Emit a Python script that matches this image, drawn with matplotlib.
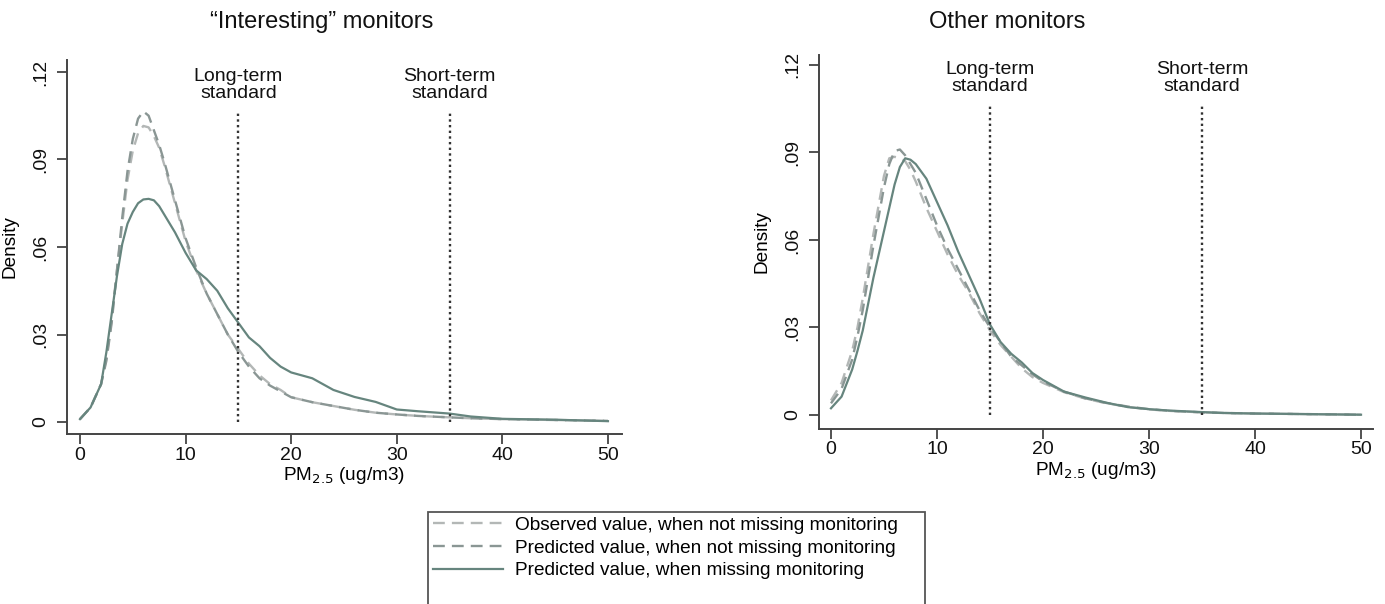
import matplotlib.pyplot as plt
from matplotlib.patches import Rectangle

pm = [0, 1, 2, 2.5, 3, 3.5, 4, 4.5, 5, 5.5, 6, 6.5, 7, 7.5, 8, 9, 10, 11, 12, 13, 14,
      15, 16, 17, 18, 19, 20, 22, 24, 26, 28, 30, 32, 35, 37, 40, 45, 50]

# "Interesting" monitors
int_observed = [0.001, 0.005, 0.013, 0.022, 0.035, 0.052, 0.068, 0.083, 0.093, 0.099,
                0.1015, 0.101, 0.098, 0.094, 0.088, 0.075, 0.062, 0.052, 0.044, 0.037,
                0.030, 0.025, 0.020, 0.016, 0.013, 0.011, 0.0085, 0.0068, 0.0055, 0.0042,
                0.0032, 0.0026, 0.0021, 0.0016, 0.0013, 0.0010, 0.0007, 0.0004]
int_predicted = [0.001, 0.005, 0.013, 0.021, 0.034, 0.052, 0.070, 0.086, 0.097, 0.104,
                 0.1065, 0.105, 0.100, 0.095, 0.089, 0.076, 0.063, 0.053, 0.044, 0.037,
                 0.030, 0.024, 0.019, 0.015, 0.0125, 0.0105, 0.0085, 0.0068, 0.0055,
                 0.0042, 0.0032, 0.0026, 0.0021, 0.0016, 0.0013, 0.0010, 0.0007, 0.0004]
int_missing = [0.001, 0.005, 0.013, 0.024, 0.037, 0.050, 0.061, 0.068, 0.072, 0.075,
               0.0763, 0.0765, 0.076, 0.074, 0.071, 0.065, 0.058, 0.052, 0.049, 0.045,
               0.039, 0.034, 0.029, 0.026, 0.022, 0.019, 0.017, 0.015, 0.011, 0.0086,
               0.0069, 0.0043, 0.0037, 0.0029, 0.0019, 0.0011, 0.0008, 0.0003]

# Other monitors
oth_observed = [0.005, 0.011, 0.022, 0.030, 0.040, 0.051, 0.062, 0.072, 0.082, 0.088,
                0.0885, 0.088, 0.087, 0.084, 0.080, 0.071, 0.063, 0.055, 0.048, 0.042,
                0.035, 0.029, 0.024, 0.020, 0.016, 0.013, 0.011, 0.0078, 0.0056, 0.0040,
                0.0028, 0.0019, 0.0014, 0.0009, 0.0007, 0.0005, 0.0003, 0.0001]
oth_predicted = [0.004, 0.009, 0.019, 0.027, 0.036, 0.047, 0.058, 0.068, 0.078, 0.086,
                 0.0905, 0.091, 0.089, 0.086, 0.083, 0.074, 0.065, 0.057, 0.050, 0.043,
                 0.036, 0.030, 0.025, 0.020, 0.017, 0.014, 0.0115, 0.0080, 0.0057,
                 0.0041, 0.0029, 0.0020, 0.0014, 0.0009, 0.0007, 0.0005, 0.0003, 0.0001]
oth_missing = [0.0023, 0.0063, 0.0156, 0.022, 0.029, 0.038, 0.047, 0.055, 0.063, 0.071,
               0.079, 0.085, 0.088, 0.0875, 0.086, 0.081, 0.073, 0.065, 0.056, 0.048,
               0.040, 0.031, 0.025, 0.021, 0.018, 0.0144, 0.012, 0.0080, 0.0060, 0.0042,
               0.0027, 0.0020, 0.0015, 0.0010, 0.0007, 0.0005, 0.0003, 0.0001]

standards = [15, 35]
standard_labels = ['Long-term\nstandard', 'Short-term\nstandard']
y_ticks = [0, 0.03, 0.06, 0.09, 0.12]
y_tick_labels = ['0', '.03', '.06', '.09', '.12']
x_ticks = [0, 10, 20, 30, 40, 50]

series_labels = ['Observed value, when not missing monitoring',
                 'Predicted value, when not missing monitoring',
                 'Predicted value, when missing monitoring']

plt.rcParams['font.family'] = ['Liberation Sans', 'DejaVu Sans']
axis_col = '#444444'
c_obs = '#b3b7b6'
c_pred = '#8a9694'
c_miss = '#66857e'

W, H = 1385, 604
fig = plt.figure(figsize=(W / 100, H / 100), dpi=100)
# axes placed in pixel terms, converted to figure fractions
ax1 = fig.add_axes([67 / W, (H - 434) / H, 555 / W, 374 / H])
ax2 = fig.add_axes([819 / W, (H - 429) / H, 554 / W, 374 / H])

panels = [
    (ax1, '\u201cInteresting\u201d monitors', 322, int_observed, int_predicted, int_missing, (-1.23, 51.33), (-0.0041, 0.1241)),
    (ax2, 'Other monitors', 1007, oth_observed, oth_predicted, oth_missing, (-1.13, 51.13), (-0.0048, 0.1234)),
]

for ax, title, tx, obs, pred, miss, xl, yl in panels:
    l1, = ax.plot(pm, obs, color=c_obs, lw=1.7, ls=(0, (5, 3)))
    l2, = ax.plot(pm, pred, color=c_pred, lw=1.7, ls=(0, (5, 3)))
    l3, = ax.plot(pm, miss, color=c_miss, lw=1.6)
    for xs, lab in zip(standards, standard_labels):
        ax.vlines(xs, 0, 0.106, colors='#333333', linestyles=(0, (1, 1.4)), lw=1.7)
        ax.text(xs, 0.1155, lab, ha='center', va='center', fontsize=14,
                linespacing=1.05, color='#111111')
    ax.set_xlim(*xl)
    ax.set_ylim(*yl)
    ax.set_xticks(x_ticks)
    ax.set_yticks(y_ticks)
    ax.set_yticklabels(y_tick_labels, rotation=90, va='center')
    ax.tick_params(colors=axis_col, labelcolor='#111111', labelsize=14, length=7,
                   width=1.3, direction='out')
    ax.tick_params(axis='y', pad=6)
    ax.tick_params(axis='x', pad=2)
    for side in ['top', 'right']:
        ax.spines[side].set_visible(False)
    for side in ['left', 'bottom']:
        ax.spines[side].set_color(axis_col)
        ax.spines[side].set_linewidth(1.4)
    ax.set_xlabel('PM$_{2.5}$ (ug/m3)', fontsize=13.7, labelpad=1)
    ax.set_ylabel('Density', fontsize=13.7)
    ax.yaxis.set_label_coords(-0.088, 0.5)
    fig.text(tx / W, 1 - 22 / H, title, ha='center', va='center', fontsize=17,
             color='#111111')

leg = fig.legend([l1, l2, l3], series_labels, loc='upper left',
                 bbox_to_anchor=(428 / W, 1 - 512 / H, 497 / W, 0.0), mode='expand',
                 fontsize=13.7, frameon=False, handlelength=3.7,
                 handletextpad=0.6, labelspacing=0.28, borderpad=0.25,
                 borderaxespad=0.0)
# legend frame runs off the bottom edge of the figure, as in the source
fig.add_artist(Rectangle((428 / W, -0.05), 497 / W, 0.05 + (H - 512) / H,
                         transform=fig.transFigure, fill=False,
                         edgecolor='#555555', lw=1.3, clip_on=False))

fig.savefig('out.png', dpi=100)
